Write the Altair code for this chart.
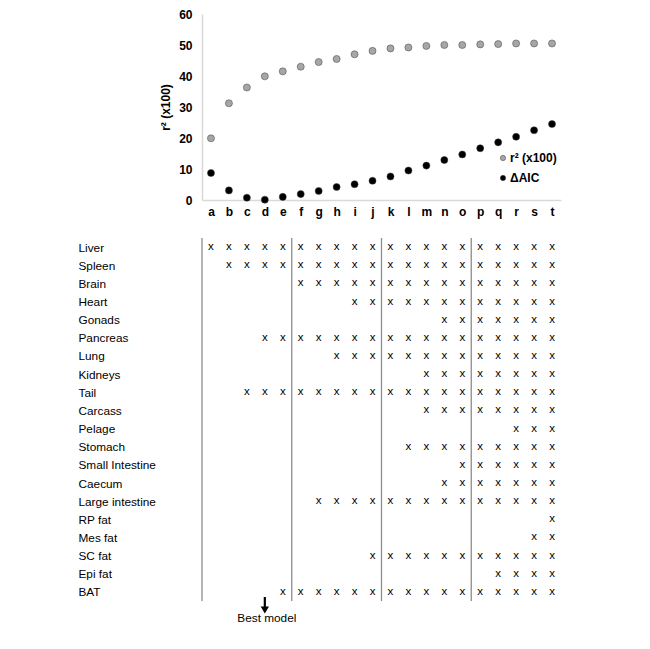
import altair as alt
import pandas as pd

models = list("abcdefghijklmnopqrst")
r2_x100 = [19.9, 31.2, 36.3, 39.9, 41.5, 43.0, 44.5, 45.5, 47.0, 48.1,
           48.9, 49.2, 49.7, 50.0, 50.0, 50.2, 50.3, 50.5, 50.5, 50.5]
delta_aic = [8.7, 3.1, 0.75, 0.1, 1.0, 1.9, 2.9, 4.2, 5.1, 6.2,
             7.6, 9.5, 11.1, 12.9, 14.7, 16.7, 18.6, 20.4, 22.5, 24.5]

organs = ["Liver", "Spleen", "Brain", "Heart", "Gonads", "Pancreas", "Lung",
          "Kidneys", "Tail", "Carcass", "Pelage", "Stomach", "Small Intestine",
          "Caecum", "Large intestine", "RP fat", "Mes fat", "SC fat", "Epi fat", "BAT"]
included_in = ["abcdefghijklmnopqrst", "bcdefghijklmnopqrst", "fghijklmnopqrst",
               "ijklmnopqrst", "nopqrst", "defghijklmnopqrst", "hijklmnopqrst",
               "mnopqrst", "cdefghijklmnopqrst", "mnopqrst", "rst",
               "lmnopqrst", "opqrst", "nopqrst", "ghijklmnopqrst", "t", "st",
               "jklmnopqrst", "qrst", "efghijklmnopqrst"]
group_starts = ["a", "f", "k", "p"]
best_model = "d"

series_names = ["r² (x100)", "ΔAIC"]
series_colors = ["#a6a6a6", "#000000"]

FONT = "Liberation Sans"

top_df = pd.DataFrame({
    "model": models * 2,
    "value": r2_x100 + delta_aic,
    "series": [series_names[0]] * len(models) + [series_names[1]] * len(models),
})

x_scale = alt.Scale(domain=models, paddingInner=0, paddingOuter=0)

top = alt.Chart(top_df).mark_point(
    filled=True, size=50, stroke="#404040", strokeWidth=0.5, opacity=1
).encode(
    x=alt.X("model:N", scale=x_scale, sort=models,
            axis=alt.Axis(title=None, labelAngle=0, ticks=False, domainColor="#d9d9d9",
                          domainWidth=1.5, labelFont=FONT, labelFontWeight="bold",
                          labelFontSize=12, labelColor="#000", labelPadding=6)),
    y=alt.Y("value:Q", scale=alt.Scale(domain=[0, 60], nice=False),
            axis=alt.Axis(title="r² (x100)", values=[0, 10, 20, 30, 40, 50, 60], grid=False,
                          ticks=False, domainColor="#d9d9d9", domainWidth=1.5,
                          labelFont=FONT, labelFontWeight="bold", labelFontSize=12,
                          labelColor="#000", labelPadding=10, titleFont=FONT,
                          titleFontWeight="bold", titleFontSize=12, titleColor="#000",
                          titlePadding=6)),
    color=alt.Color("series:N", scale=alt.Scale(domain=series_names, range=series_colors),
                    legend=alt.Legend(title=None, orient="none", legendX=295, legendY=138,
                                      labelFont=FONT, labelFontWeight="bold", labelFontSize=12,
                                      labelColor="#000", symbolSize=28, symbolType="circle",
                                      symbolStrokeColor="#404040", symbolStrokeWidth=0.5,
                                      rowPadding=8, labelOffset=1, padding=0)),
).properties(width=359, height=186)

grid_rows = []
for organ, inc in zip(organs, included_in):
    for m in inc:
        grid_rows.append({"organ": organ, "model": m, "mark": "x"})
grid_df = pd.DataFrame(grid_rows)

y_scale = alt.Scale(domain=organs, paddingInner=0, paddingOuter=0)

marks = alt.Chart(grid_df).mark_text(font=FONT, fontSize=11.5, color="#000", baseline="middle").encode(
    x=alt.X("model:N", scale=x_scale, sort=models, axis=None),
    y=alt.Y("organ:N", scale=y_scale, sort=organs,
            axis=alt.Axis(title=None, ticks=False, domain=False, labelAlign="left",
                          labelPadding=124, labelFont=FONT, labelFontSize=11.8,
                          labelColor="#000")),
    text="mark:N",
)

seps = alt.Chart(pd.DataFrame({"model": group_starts})).mark_rule(
    color="#8c8c8c", strokeWidth=1.3
).encode(
    x=alt.X("model:N", scale=x_scale, sort=models, bandPosition=0, axis=None),
)

best_df = pd.DataFrame({"model": [best_model], "label": ["Best model"]})
arrow_shaft = alt.Chart(best_df).mark_rule(color="#000", strokeWidth=2.2).encode(
    x=alt.X("model:N", scale=x_scale, sort=models, axis=None),
    y=alt.value(359), y2=alt.value(372),
)
arrow_head = alt.Chart(best_df).mark_point(shape="triangle-down", filled=True, color="#000",
                                           size=70, opacity=1).encode(
    x=alt.X("model:N", scale=x_scale, sort=models, axis=None),
    y=alt.value(372),
)
best_text = alt.Chart(best_df).mark_text(font=FONT, fontSize=11.8, color="#000", dx=2,
                                         baseline="middle").encode(
    x=alt.X("model:N", scale=x_scale, sort=models, axis=None),
    y=alt.value(380),
    text="label:N",
)

bottom = alt.layer(seps, marks, arrow_shaft, arrow_head, best_text).properties(width=359, height=363)

chart = alt.vconcat(top, bottom, spacing=38, bounds="flush").resolve_scale(
    color="independent"
).properties(
    padding={"left": 70, "top": 0, "right": 5, "bottom": 5}
).configure_view(stroke=None)

chart.save("out.html", embed_options={"renderer": "svg", "actions": False})
